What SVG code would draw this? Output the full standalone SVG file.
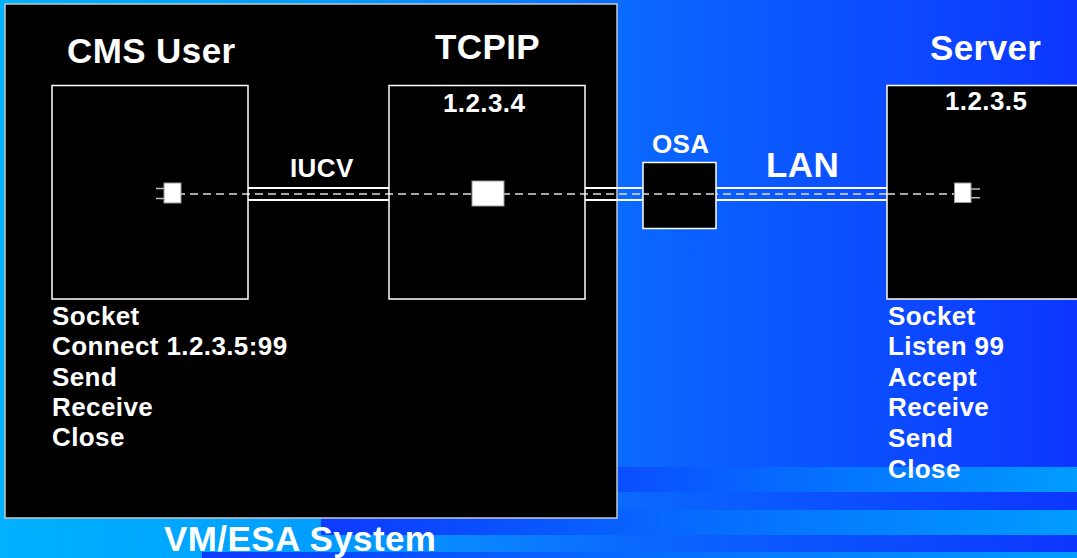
<svg xmlns="http://www.w3.org/2000/svg" width="1077" height="558" viewBox="0 0 1077 558">
  <defs>
    <linearGradient id="bg" x1="0" y1="0" x2="1077" y2="0" gradientUnits="userSpaceOnUse">
      <stop offset="0" stop-color="#00b2ff"/>
      <stop offset="0.3" stop-color="#009eff"/>
      <stop offset="0.45" stop-color="#0a84ff"/>
      <stop offset="0.6" stop-color="#0a66ff"/>
      <stop offset="1" stop-color="#0d36ff"/>
    </linearGradient>
    <linearGradient id="s1" x1="500" y1="0" x2="1077" y2="0" gradientUnits="userSpaceOnUse">
      <stop offset="0" stop-color="#0d3aff"/>
      <stop offset="1" stop-color="#009cff"/>
    </linearGradient>
    <linearGradient id="s2" x1="321" y1="0" x2="1077" y2="0" gradientUnits="userSpaceOnUse">
      <stop offset="0" stop-color="#0d3aff"/>
      <stop offset="1" stop-color="#009cff"/>
    </linearGradient>
    <linearGradient id="s3" x1="202" y1="0" x2="1077" y2="0" gradientUnits="userSpaceOnUse">
      <stop offset="0" stop-color="#0d3aff"/>
      <stop offset="1" stop-color="#009cff"/>
    </linearGradient>
  </defs>
  <style>
    text { font-family: "Liberation Sans", Arial, sans-serif; font-weight: bold; fill: #ffffff; }
    .title { font-size: 35px; letter-spacing: 0.4px; }
    .lbl { font-size: 26px; letter-spacing: 0.4px; }
    .box { fill: #000000; stroke: #ffffff; stroke-width: 1.5; }
    .pipe { stroke: #ffffff; stroke-width: 2; fill: none; }
    .dash { stroke: #dddddd; stroke-width: 1.3; stroke-dasharray: 8 5; fill: none; }
    .prong { stroke: #bbbbbb; stroke-width: 1.5; fill: none; }
    .sock { fill: #ffffff; stroke: #999999; stroke-width: 1; }
  </style>

  <g id="background">
    <rect x="0" y="0" width="1077" height="558" fill="url(#bg)"/>
    <rect x="500" y="467" width="577" height="25" fill="url(#s1)"/>
    <rect x="321" y="510" width="756" height="25" fill="url(#s2)"/>
    <rect x="202" y="552" width="875" height="6" fill="url(#s3)"/>
  </g>

  <g id="vmesa-system">
    <rect x="5" y="4" width="612" height="514" fill="#000000" stroke="#c8c8c8" stroke-width="1.5"/>
    <text class="title" x="164" y="551">VM/ESA System</text>
  </g>

  <g id="connectors">
    <line class="pipe" x1="248" y1="188" x2="389" y2="188"/>
    <line class="pipe" x1="248" y1="200" x2="389" y2="200"/>
    <line class="pipe" x1="585" y1="188" x2="643" y2="188"/>
    <line class="pipe" x1="585" y1="200" x2="643" y2="200"/>
    <line class="pipe" x1="716" y1="188" x2="887" y2="188"/>
    <line class="pipe" x1="716" y1="200" x2="887" y2="200"/>
    <line class="dash" x1="164" y1="194" x2="960" y2="194"/>
    <text class="lbl" x="290" y="177">IUCV</text>
    <text class="title" x="766" y="177">LAN</text>
  </g>

  <g id="cms-user">
    <text class="title" x="67" y="63">CMS User</text>
    <rect class="box" x="52" y="85.5" width="196" height="213.5" fill-opacity="0"/>
    <line class="prong" x1="156" y1="188.5" x2="165" y2="188.5"/>
    <line class="prong" x1="156" y1="198.5" x2="165" y2="198.5"/>
    <rect class="sock" x="164" y="183" width="17" height="20"/>
    <text class="lbl" x="52" y="324.5">Socket</text>
    <text class="lbl" x="52" y="355">Connect 1.2.3.5:99</text>
    <text class="lbl" x="52" y="385.5">Send</text>
    <text class="lbl" x="52" y="416">Receive</text>
    <text class="lbl" x="52" y="446">Close</text>
  </g>

  <g id="tcpip">
    <text class="title" x="435" y="59">TCPIP</text>
    <rect class="box" x="389" y="85.5" width="196" height="213.5" fill-opacity="0"/>
    <text class="lbl" x="443" y="111.5">1.2.3.4</text>
    <rect class="sock" x="472" y="181" width="32" height="25"/>
  </g>

  <g id="osa">
    <text class="lbl" x="652" y="153">OSA</text>
    <rect class="box" x="643" y="162.5" width="73" height="66" stroke="#dddddd"/>
    <line class="dash" x1="643" y1="194" x2="716" y2="194" stroke-dashoffset="2"/>
  </g>

  <g id="server">
    <text class="title" x="930" y="60">Server</text>
    <rect class="box" x="887" y="85.5" width="200" height="213.5"/>
    <text class="lbl" x="945" y="110">1.2.3.5</text>
    <line class="dash" x1="887" y1="194" x2="955" y2="194"/>
    <line class="prong" x1="970" y1="189" x2="980" y2="189"/>
    <line class="prong" x1="970" y1="197.7" x2="980" y2="197.7"/>
    <rect class="sock" x="954.5" y="183" width="16.5" height="19.5"/>
    <text class="lbl" x="888" y="324.5">Socket</text>
    <text class="lbl" x="888" y="355">Listen 99</text>
    <text class="lbl" x="888" y="385.7">Accept</text>
    <text class="lbl" x="888" y="416.3">Receive</text>
    <text class="lbl" x="888" y="447">Send</text>
    <text class="lbl" x="888" y="477.5">Close</text>
  </g>
</svg>
